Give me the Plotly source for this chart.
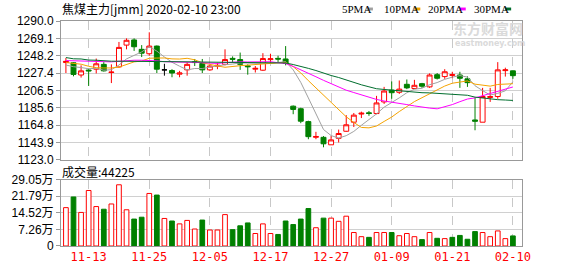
import plotly.graph_objects as go

dates = ["11-08", "11-11", "11-12", "11-13", "11-14", "11-15", "11-18", "11-19", "11-20", "11-21",
         "11-22", "11-25", "11-26", "11-27", "11-28", "11-29", "12-02", "12-03", "12-04", "12-05",
         "12-06", "12-09", "12-10", "12-11", "12-12", "12-13", "12-16", "12-17", "12-18", "12-19",
         "12-20", "12-23", "12-24", "12-25", "12-26", "12-27", "12-30", "12-31", "01-02", "01-03",
         "01-06", "01-07", "01-08", "01-09", "01-10", "01-13", "01-14", "01-15", "01-16", "01-17",
         "01-20", "01-21", "01-22", "01-23", "02-03", "02-04", "02-05", "02-06", "02-07", "02-10"]
tick_labels = ["11-13", "11-25", "12-05", "12-17", "12-27", "01-09", "01-21", "02-10"]

open_ = [1240, 1239.7, 1225, 1231, 1232, 1237.8, 1228, 1234.7, 1261, 1267.2,
         1255.9, 1250.6, 1259.8, 1231.2, 1230.4, 1226, 1231.2, 1241, 1239, 1231.2,
         1235.5, 1237.8, 1245, 1243.6, 1236, 1232, 1230.8, 1243.5, 1245, 1244.3,
         1187.5, 1184.4, 1168.9, 1150, 1150, 1141, 1148.8, 1157.3, 1168.2, 1178,
         1179.5, 1178.6, 1192.6, 1206.8, 1204.2, 1213.8, 1208.8, 1214.6, 1210.7, 1225.4,
         1223.1, 1224.5, 1225, 1220.4, 1170.9, 1168.2, 1198, 1199.1, 1230.3, 1230]
high = [1245.5, 1240.5, 1236.6, 1232.7, 1244.8, 1240.5, 1237.8, 1264.8, 1269.1, 1269.1,
        1261, 1276.4, 1260.5, 1238.5, 1232, 1230, 1240.5, 1244.3, 1244.3, 1236.6,
        1239.7, 1255.9, 1247.4, 1252, 1237.8, 1235.8, 1251.3, 1250.6, 1248.2, 1259.8,
        1188.3, 1185.6, 1170, 1156.6, 1151.5, 1151.5, 1159.3, 1176.7, 1179.3, 1180.9,
        1181.7, 1199.9, 1210.7, 1217.3, 1218.4, 1219.6, 1219.2, 1215.5, 1226.9, 1227.4,
        1232, 1228.9, 1228.9, 1223.4, 1197.9, 1209.5, 1209.5, 1240.5, 1233.8, 1230.5]
low = [1227.4, 1223.4, 1221.9, 1211.8, 1226.9, 1229.2, 1215.3, 1233.9, 1255.9, 1254,
       1246.6, 1248.2, 1227.4, 1224.2, 1222.3, 1222.3, 1224.2, 1235.8, 1227.4, 1230,
       1232, 1236.6, 1239.7, 1231.2, 1225.4, 1228, 1230, 1239.7, 1239.7, 1236.6,
       1177.8, 1167, 1147.7, 1147.7, 1138, 1141, 1143.8, 1156.6, 1162.4, 1173.2,
       1175.9, 1177.8, 1190.2, 1196.4, 1202.2, 1208, 1208, 1209.5, 1209.5, 1219.6,
       1220.4, 1221.1, 1209.5, 1210.7, 1158.5, 1168.2, 1192.6, 1196.4, 1223.1, 1220.4]
close = [1241.5, 1225.7, 1230, 1230, 1238.5, 1230, 1228.5, 1258.2, 1266.8, 1259,
         1251.3, 1259.8, 1232, 1231.2, 1227.4, 1227.5, 1237.8, 1240, 1231.2, 1235.8,
         1236.6, 1243.6, 1244, 1237.8, 1235, 1233, 1244.8, 1244.5, 1244.2, 1239,
         1183.6, 1169.4, 1150.8, 1151, 1142.2, 1146.9, 1154.6, 1165.1, 1176.7, 1179,
         1178.7, 1191.4, 1205.7, 1203.7, 1208, 1209.5, 1212.6, 1211.5, 1225, 1221.1,
         1228.9, 1225.4, 1221.1, 1215.8, 1169.4, 1199.1, 1199, 1231.2, 1231.2, 1224.2]

ma5 = [1237, 1235, 1234, 1232.5, 1233.1, 1230.8, 1231.4, 1237, 1244.4, 1248.5,
       1252.8, 1259, 1253.8, 1246.7, 1240.3, 1235.6, 1231.2, 1232.8, 1232.8, 1234.5,
       1236.3, 1237.4, 1238.2, 1239.6, 1239.4, 1238.7, 1238.9, 1239, 1240.3, 1241.1,
       1231.2, 1216.1, 1197.4, 1178.8, 1159.4, 1152.1, 1149.1, 1152, 1157.1, 1164.5,
       1170.8, 1178.2, 1186.3, 1191.7, 1197.5, 1203.7, 1207.9, 1209.1, 1213.3, 1215.9,
       1219.8, 1222.4, 1224.3, 1222.5, 1212.1, 1206.2, 1200.9, 1202.9, 1206, 1216.9]
ma10 = [1240, 1239, 1238, 1235.5, 1233.8, 1233.5, 1233.5, 1234.5, 1237.5, 1240.8,
        1241.8, 1245.2, 1245.4, 1245.5, 1244.4, 1244.2, 1245.1, 1243.3, 1239.7, 1237.4,
        1235.9, 1234.3, 1235.5, 1236.2, 1236.9, 1237.5, 1238.2, 1238.6, 1239.9, 1240.3,
        1235, 1227.5, 1218.2, 1209.5, 1200.3, 1191.6, 1182.6, 1174.7, 1167.9, 1161.9,
        1161.4, 1163.6, 1169.1, 1174.4, 1181, 1187.2, 1193, 1197.7, 1202.5, 1206.7,
        1211.7, 1215.1, 1216.7, 1217.9, 1214, 1213, 1211.6, 1213.6, 1214.2, 1214.5]
ma20 = [1242.4, 1242.2, 1242, 1241, 1240.8, 1240.8, 1240.8, 1241.5, 1242.5, 1242.8,
        1242.8, 1242.6, 1242, 1241, 1240.5, 1240.3, 1240.3, 1240.2, 1240, 1239.1,
        1238.9, 1239.8, 1240.5, 1240.9, 1240.7, 1240.8, 1241.6, 1241, 1239.8, 1238.8,
        1235.4, 1230.9, 1226.9, 1222.9, 1218.6, 1214.6, 1210.4, 1206.7, 1203.9, 1201.1,
        1198.2, 1195.6, 1193.7, 1192, 1190.6, 1189.4, 1187.8, 1186.2, 1185.2, 1184.3,
        1186.6, 1189.4, 1192.9, 1196.1, 1197.5, 1200.1, 1202.3, 1205.6, 1208.4, 1210.6]
ma30 = [1246, 1244.5, 1244.3, 1243, 1242.8, 1242, 1241.6, 1241.6, 1241.6, 1241.6,
        1241.6, 1241.6, 1241.6, 1241.5, 1241.3, 1241.2, 1241, 1240.8, 1240.6, 1240.5,
        1240.4, 1240.3, 1240.3, 1240.2, 1240.2, 1240.1, 1240.1, 1240, 1239.9, 1239.5,
        1237.6, 1235.7, 1233, 1230.4, 1227.2, 1224.4, 1222, 1218.9, 1215.9, 1213.2,
        1210.8, 1208.5, 1207.6, 1206.7, 1206.1, 1205.5, 1204.6, 1203.7, 1203.5, 1203,
        1202.7, 1202.1, 1201.3, 1200.6, 1198.4, 1197.3, 1195.8, 1195.3, 1194.9, 1194.4]

volume = [168000, 214700, 147000, 243000, 172600, 161000, 184000, 268000, 158600, 117900,
          126000, 230000, 223000, 120600, 109400, 96800, 112000, 74400, 113600, 70000,
          70000, 137500, 71600, 88400, 101000, 54700, 96800, 54700, 50500, 109400,
          93900, 117900, 164000, 80000, 122000, 122000, 108000, 130500, 59000, 40800,
          37900, 59000, 59000, 59000, 45000, 54700, 40800, 28000, 59000, 33700,
          32300, 37900, 46300, 29500, 63000, 59000, 40800, 66000, 32300, 44225]
vol_up = [1, 0, 1, 1, 1, 0, 1, 1, 1, 0, 0, 1, 0, 1, 0, 1, 1, 1, 0, 1,
          1, 1, 0, 0, 0, 1, 1, 1, 0, 0, 0, 0, 0, 1, 0, 1, 1, 1, 1, 1,
          0, 1, 1, 0, 1, 1, 1, 0, 1, 0, 1, 0, 0, 0, 0, 1, 1, 1, 1, 0]

price_ticks = [1123.0, 1143.9, 1164.8, 1185.6, 1206.5, 1227.4, 1248.2, 1269.1, 1290.0]
vol_ticks = [0, 72600, 145200, 217900, 290500]
vol_tick_text = ["0", "7.26万", "14.52万", "21.79万", "29.05万"]

RED = "#ff0000"
GREEN = "#008000"
idx = list(range(len(dates)))
tickpos = [dates.index(t) for t in tick_labels]

main = [i for i in idx if open_[i] != close[i]]
doji = [i for i in idx if open_[i] == close[i]]

fig = go.Figure()
fig.add_trace(go.Candlestick(
    x=main, open=[open_[i] for i in main], high=[high[i] for i in main],
    low=[low[i] for i in main], close=[close[i] for i in main],
    increasing=dict(line=dict(color=RED, width=1), fillcolor="white"),
    decreasing=dict(line=dict(color=GREEN, width=1), fillcolor=GREEN),
    whiskerwidth=0, showlegend=False, hoverinfo="skip"))
if doji:
    fig.add_trace(go.Candlestick(
        x=doji, open=[open_[i] for i in doji], high=[high[i] for i in doji],
        low=[low[i] for i in doji], close=[close[i] for i in doji],
        increasing=dict(line=dict(color="black", width=1), fillcolor="black"),
        decreasing=dict(line=dict(color="black", width=1), fillcolor="black"),
        whiskerwidth=0, showlegend=False, hoverinfo="skip"))

for vals, col in [(ma5, "#a0a0a0"), (ma10, "#f5a300"), (ma20, "#ff00ff"), (ma30, "#006e2e")]:
    fig.add_trace(go.Scatter(x=idx, y=vals, mode="lines", line=dict(color=col, width=1),
                             showlegend=False, hoverinfo="skip"))

fig.add_trace(go.Bar(
    x=idx, y=volume, width=0.62, xaxis="x2", yaxis="y2",
    marker=dict(color=["white" if u else GREEN for u in vol_up],
                line=dict(color=[RED if u else GREEN for u in vol_up], width=1)),
    showlegend=False, hoverinfo="skip"))

xr = [-0.65, 60.2]
axis_common = dict(showline=True, mirror=True, linecolor="#999999", linewidth=1, zeroline=False)
fig.update_layout(
    width=578, height=276, margin=dict(l=55, r=56, t=21, b=21),
    paper_bgcolor="white", plot_bgcolor="white",
    boxgap=0.35, boxgroupgap=0,
    xaxis=dict(domain=[0, 1], range=xr, anchor="y", tickvals=tickpos, showticklabels=False,
               ticks="", showgrid=True, gridcolor="#c8c8c8", griddash="dash", gridwidth=1,
               rangeslider=dict(visible=False), **axis_common),
    yaxis=dict(domain=[0.3833, 1], range=[1123, 1290], tickvals=price_ticks,
               ticktext=[f"{v:.1f}" for v in price_ticks], showgrid=True, gridcolor="#d0d0d0",
               ticks="outside", ticklen=4, tickcolor="#999999",
               tickfont=dict(family="Tahoma, Liberation Sans, Arial", size=12, color="black"),
               **axis_common),
    xaxis2=dict(domain=[0, 1], range=xr, anchor="y2", tickvals=tickpos, ticktext=tick_labels,
                ticks="", showgrid=True, gridcolor="#c8c8c8", griddash="dash", gridwidth=1,
                tickfont=dict(family="DejaVu Sans Mono, Liberation Mono", size=12, color=RED),
                **axis_common),
    yaxis2=dict(domain=[0, 0.2949], range=[0, 290500], tickvals=vol_ticks, ticktext=vol_tick_text,
                showgrid=True, gridcolor="#d0d0d0", ticks="outside", ticklen=4, tickcolor="#999999",
                tickfont=dict(family="Tahoma, Liberation Sans, Noto Sans CJK SC", size=12, color="black"),
                **axis_common),
)

def px_x(p):
    return (p - 55) / 467.0

def px_y(p):
    return (255 - p) / 234.0

anns = [
    dict(text="焦煤主力[jmm] 2020-02-10 23:00", x=px_x(54), y=px_y(7.5), xanchor="left", yanchor="middle",
         font=dict(family="Noto Sans CJK SC", size=12, color="black")),
    dict(text="成交量:44225", x=px_x(54), y=px_y(177), xanchor="left", yanchor="middle",
         font=dict(family="Noto Sans CJK SC", size=12, color="black")),
    dict(text="<b>东方财富网</b>", x=px_x(450), y=px_y(28), xanchor="left", yanchor="middle",
         font=dict(family="Noto Sans CJK SC", size=14, color="#dadada")),
    dict(text="<b>eastmoney.com</b>", x=px_x(452), y=px_y(44), xanchor="left", yanchor="middle",
         font=dict(family="DejaVu Sans", size=8, color="#dadada")),
]
legend_items = [("5PMA", "#a0a0a0", 338, 365), ("10PMA", "#f5a300", 380, 413),
                ("20PMA", "#ff00ff", 425, 459), ("30PMA", "#006e2e", 471, 505)]
for name, col, tx, sx in legend_items:
    anns.append(dict(text=name, x=px_x(tx), y=px_y(8.5), xanchor="left", yanchor="middle",
                     font=dict(family="Liberation Serif, Times New Roman", size=11, color="black")))
    fig.add_shape(type="rect", xref="paper", yref="paper", x0=px_x(sx), x1=px_x(sx + 6),
                  y0=px_y(10), y1=px_y(7), fillcolor=col, line=dict(width=0))
for a in anns:
    a.update(xref="paper", yref="paper", showarrow=False)
fig.update_layout(annotations=anns)

fig.write_html("out.html")
